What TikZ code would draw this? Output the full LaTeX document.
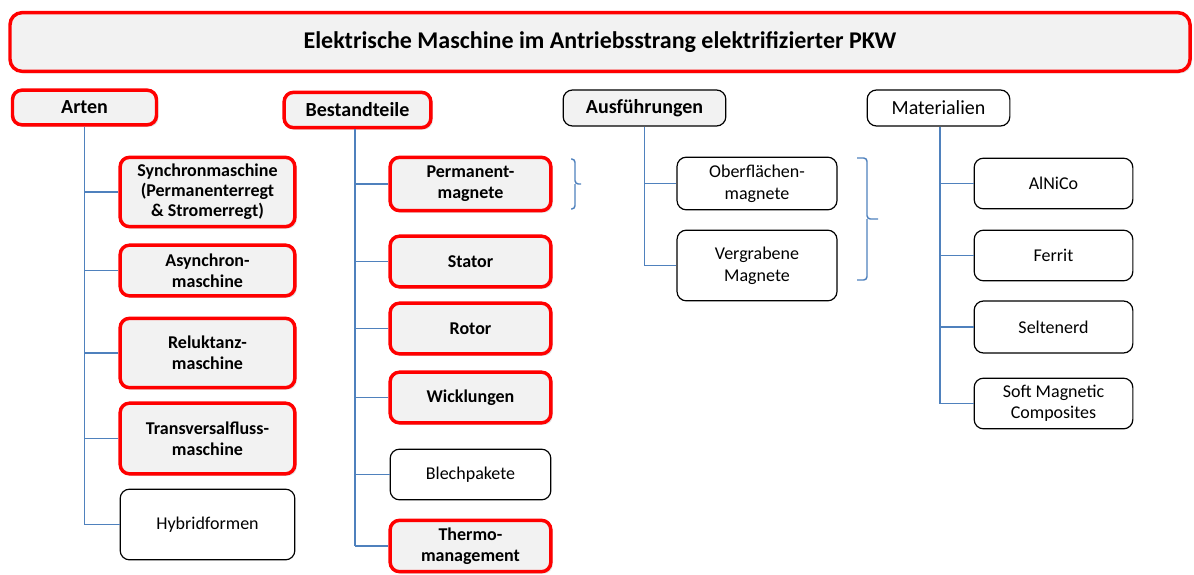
\documentclass[tikz,border=0pt]{standalone}
\usepackage{fontspec}
\setmainfont{Carlito}
\usetikzlibrary{shadows}
\definecolor{boxfill}{HTML}{F2F2F2}
\definecolor{conncol}{HTML}{4F81BD}
\definecolor{redline}{HTML}{FF0000}
\tikzset{
  redbox/.style={draw=redline, line width=2.6pt, fill=boxfill, rounded corners=7pt,
    align=center, inner sep=2pt, font=\fontsize{13.5}{16}\selectfont\bfseries,
    drop shadow={opacity=0.25, shadow xshift=1.5pt, shadow yshift=-1.5pt}},
  blackbox/.style={draw=black, line width=0.9pt, fill=white, rounded corners=7pt,
    align=center, inner sep=2pt, font=\fontsize{13.5}{16.5}\selectfont},
  headfont/.style={font=\fontsize{15}{18}\selectfont\bfseries},
  conn/.style={draw=conncol, line width=1.1pt},
  bracecol/.style={draw=conncol, line width=1.1pt, rounded corners=2.5pt}
}
\begin{document}
\begin{tikzpicture}[x=0.75pt, y=-0.75pt]
\useasboundingbox (0,0) rectangle (1194,574);

% title
\node[redbox, rounded corners=9pt, minimum width=885pt, minimum height=44pt,
  font=\fontsize{18}{20}\selectfont\bfseries] (title) at (600,42)
  {Elektrische Maschine im Antriebsstrang elektrifizierter PKW};

% headers
\node[redbox, headfont, minimum width=108pt, minimum height=26pt] (arten) at (84.5,107.5) {Arten};
\node[redbox, headfont, minimum width=110pt, minimum height=26.5pt] (best) at (357.5,110) {Bestandteile};
\node[blackbox, fill=boxfill, headfont, minimum width=122pt, minimum height=27pt] (ausf) at (644.5,108) {Ausführungen};
\node[blackbox, font=\fontsize{15}{18}\selectfont, minimum width=107pt, minimum height=27pt] (mat) at (938.5,108) {Materialien};

% Arten children
\node[redbox, minimum width=131pt, minimum height=52pt, font=\fontsize{13.5}{15}\selectfont\bfseries] (syn) at (207.5,192) {Synchronmaschine\\(Permanenterregt\\\& Stromerregt)};
\node[redbox, minimum width=131pt, minimum height=38pt] (asyn) at (207.5,270.5) {Asynchron-\\maschine};
\node[redbox, minimum width=131pt, minimum height=52pt] (rel) at (207.5,353) {Reluktanz-\\maschine};
\node[redbox, minimum width=131pt, minimum height=53pt] (trans) at (207.5,438.5) {Transversalfluss-\\maschine};
\node[blackbox, minimum width=131pt, minimum height=53pt] (hyb) at (207.5,524.5) {Hybridformen};

% Bestandteile children
\node[redbox, minimum width=120.5pt, minimum height=40pt] (perm) at (470.5,184) {Permanent-\\magnete};
\node[redbox, minimum width=120.5pt, minimum height=38pt] (stator) at (470.5,261.5) {Stator};
\node[redbox, minimum width=120.5pt, minimum height=38pt] (rotor) at (470.5,328.5) {Rotor};
\node[redbox, minimum width=120.5pt, minimum height=38pt] (wick) at (470.5,397.5) {Wicklungen};
\node[blackbox, minimum width=120.5pt, minimum height=38pt] (blech) at (470.5,474.5) {Blechpakete};
\node[redbox, minimum width=120.5pt, minimum height=38.5pt] (thermo) at (470.5,546) {Thermo-\\management};

% Ausfuehrungen children
\node[blackbox, minimum width=120pt, minimum height=39.5pt] (ober) at (757,183.5) {Oberflächen-\\magnete};
\node[blackbox, minimum width=120pt, minimum height=53pt] (verg) at (757,265.5) {Vergrabene\\Magnete};

% Materialien children
\node[blackbox, minimum width=119pt, minimum height=38pt] (alnico) at (1053.5,183.5) {AlNiCo};
\node[blackbox, minimum width=119pt, minimum height=38pt] (ferrit) at (1053.5,255.5) {Ferrit};
\node[blackbox, minimum width=119pt, minimum height=39pt] (selten) at (1053.5,327) {Seltenerd};
\node[blackbox, minimum width=119pt, minimum height=38pt, font=\fontsize{13.5}{15.5}\selectfont] (smc) at (1053.5,403.5) {Soft Magnetic\\Composites};

% connectors: trunk once, then branches
\coordinate (tA) at (arten.south);
\draw[conn] (tA) -- (tA |- hyb.west);
\foreach \c in {syn,asyn,rel,trans,hyb} \draw[conn] (tA |- \c.west) -- (\c.west);
\coordinate (tB) at ([xshift=-2pt]best.south);
\draw[conn] (tB) -- (tB |- thermo.west);
\foreach \c in {perm,stator,rotor,wick,blech,thermo} \draw[conn] (tB |- \c.west) -- (\c.west);
\coordinate (tC) at (ausf.south);
\draw[conn] (tC) -- (tC |- verg.west);
\foreach \c in {ober,verg} \draw[conn] (tC |- \c.west) -- (\c.west);
\coordinate (tD) at ([xshift=1pt]mat.south);
\draw[conn] (tD) -- (tD |- smc.west);
\foreach \c in {alnico,ferrit,selten,smc} \draw[conn] (tD |- \c.west) -- (\c.west);

% braces
\coordinate (b1t) at (571,159);
\coordinate (b1b) at (571,209);
\draw[bracecol] (b1t) -- (575,159) -- (575,184) -- (581,184);
\draw[bracecol] (575,184) -- (575,209) -- (b1b);
\coordinate (b2t) at (857,158);
\coordinate (b2b) at (857,280);
\draw[bracecol] (b2t) -- (867,158) -- (867,219) -- (878,219);
\draw[bracecol] (867,219) -- (867,280) -- (b2b);
\end{tikzpicture}
\end{document}
